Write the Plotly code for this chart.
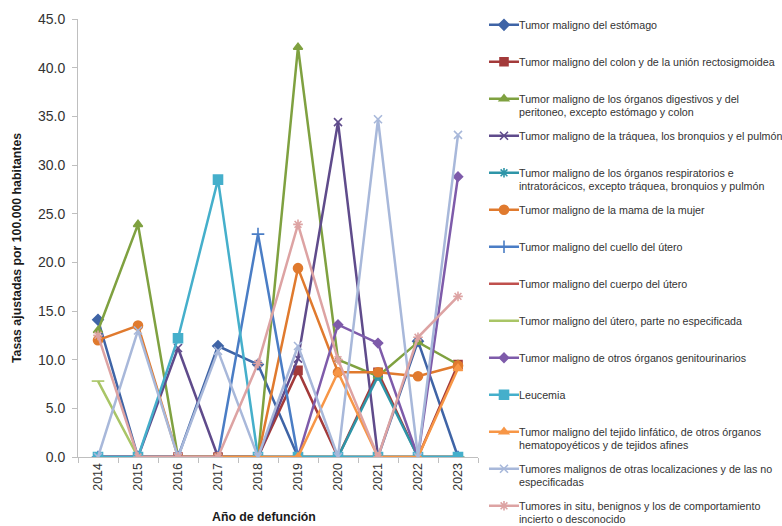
import plotly.graph_objects as go

# Años de defunción (eje X)
years = ["2014", "2015", "2016", "2017", "2018", "2019", "2020", "2021", "2022", "2023"]

# Tasas ajustadas por 100.000 habitantes, una lista por causa
estomago = [14.1, 0, 0, 11.4, 9.5, 0, 0, 0, 11.9, 0]
colon = [0, 0, 0, 0, 0, 8.9, 0, 8.7, 0, 9.5]
digestivos = [13.0, 23.9, 0, 0, 0, 42.1, 10.0, 8.3, 11.8, 9.5]
traquea = [0, 0, 11.2, 0, 0, 10.1, 34.4, 0, 0, 0]
respiratorios = [0, 0, 0, 0, 0, 0, 0, 8.3, 0, 0]
mama = [12.0, 13.5, 0, 0, 0, 19.4, 8.7, 8.7, 8.3, 9.4]
cuello_utero = [0, 0, 0, 0, 22.9, 0, 0, 0, 0, 0]
cuerpo_utero = [0, 0, 0, 0, 0, 0, 0, 0, 0, 0]
utero_ne = [7.8, 0, 0, 0, 0, 0, 0, 0, 0, 0]
genitourinarios = [0, 0, 0, 0, 0, 0, 13.6, 11.7, 0, 28.8]
leucemia = [0, 0, 12.2, 28.5, 0, 0, 0, 0, 0, 0]
linfatico = [None, None, 0, 0, 0, 0, 8.7, 0, 0, 9.1]
otras_localizaciones = [0, 13.0, 0, 10.9, 0, 11.4, 0, 34.7, 0, 33.1]
in_situ = [12.5, 0, 0, 0, 9.6, 23.9, 10.0, 0, 12.3, 16.5]

# Rótulos de la leyenda (primera línea, segunda línea opcional)
labels = [
    ("Tumor maligno del estómago", None),
    ("Tumor maligno del colon y de la unión rectosigmoidea", None),
    ("Tumor maligno de los órganos digestivos y del", "peritoneo, excepto estómago y colon"),
    ("Tumor maligno de la tráquea, los bronquios y el pulmón", None),
    ("Tumor maligno de los órganos respiratorios e", "intratorácicos, excepto tráquea, bronquios y pulmón"),
    ("Tumor maligno de la mama de la mujer", None),
    ("Tumor maligno del cuello del útero", None),
    ("Tumor maligno del cuerpo del útero", None),
    ("Tumor maligno del útero, parte no especificada", None),
    ("Tumor maligno de otros órganos genitourinarios", None),
    ("Leucemia", None),
    ("Tumor maligno del tejido linfático, de otros órganos", "hematopoyéticos y de tejidos afines"),
    ("Tumores malignos de otras localizaciones y de las no", "especificadas"),
    ("Tumores in situ, benignos y los de comportamiento", "incierto o desconocido"),
]

series = [estomago, colon, digestivos, traquea, respiratorios, mama, cuello_utero,
          cuerpo_utero, utero_ne, genitourinarios, leucemia, linfatico,
          otras_localizaciones, in_situ]

colors = ["#3F64A6", "#A33A3A", "#7FA140", "#5F4B8B", "#2E95A8", "#E07A2E", "#4A7DC5",
          "#C0504D", "#A9C566", "#7E5BAA", "#45AFCB", "#F79646", "#A8B8DA", "#DDA3A3"]

symbols = ["diamond", "square", "triangle-up", "x-thin-open", "asterisk-open", "circle",
           "cross-thin-open", "line-ew-open", "line-ew-open", "diamond", "square",
           "triangle-up", "x-thin-open", "asterisk-open"]

sizes = [8, 8, 8, 8, 8, 9, 9, 7, 9, 7, 9, 8, 8, 8]

FONT = "Liberation Sans Narrow, Arial Narrow, Liberation Sans, Arial, sans-serif"
TXT = "#333333"

# Geometría del área de trazado en píxeles
W, H = 782, 526
ML, MR, MT, MB = 78, 304, 19, 69
PW, PH = W - ML - MR, H - MT - MB


def px_x(px):
    return (px - ML) / PW


def px_y(py):
    return 1 - (py - MT) / PH


LEG_STEP = 37.0          # separación vertical entre entradas de la leyenda
FIRST = 25.0             # centro de la primera entrada
HALF = 7                 # entradas por bloque de leyenda

fig = go.Figure()
for i, (vals, (l1, l2)) in enumerate(zip(series, labels)):
    full = l1 + (" " + l2 if l2 else "")
    fig.add_trace(go.Scatter(
        x=years, y=vals, name="", legendgroup=f"g{i}",
        legend="legend" if i < HALF else "legend2",
        mode="lines+markers",
        line=dict(color=colors[i], width=2.5),
        marker=dict(symbol=symbols[i], size=sizes[i], color=colors[i],
                    line=dict(color=colors[i], width=1.6)),
        hovertemplate=full + "<br>%{x}: %{y:.1f}<extra></extra>",
    ))

# Texto de la leyenda
annotations = []
for i, (l1, l2) in enumerate(labels):
    yc = FIRST + i * LEG_STEP
    for k, line in enumerate([l1, l2]):
        if line is None:
            continue
        annotations.append(dict(
            x=px_x(517), y=px_y(yc + k * 13), xref="paper", yref="paper",
            text=line, showarrow=False, xanchor="left", yanchor="middle",
            font=dict(family=FONT, size=10.7, color=TXT),
        ))

annotations.append(dict(
    x=px_x(17), y=px_y(248), xref="paper", yref="paper",
    text="<b>Tasas ajustadas por 100.000 habitantes</b>", textangle=-90,
    showarrow=False, xanchor="center", yanchor="middle",
    font=dict(family=FONT, size=12.3, color="#1a1a1a"),
))
annotations.append(dict(
    x=px_x(264), y=px_y(517), xref="paper", yref="paper",
    text="<b>Año de defunción</b>", showarrow=False,
    xanchor="center", yanchor="middle",
    font=dict(family=FONT, size=12.3, color="#1a1a1a"),
))

# Bloques de leyenda referidos al contenedor, para no alterar los márgenes
legend_common = dict(
    xref="container", yref="container",
    xanchor="left", yanchor="top", x=484 / W,
    font=dict(family=FONT, size=12, color=TXT),
    tracegroupgap=LEG_STEP - 19, valign="top",
    bgcolor="rgba(0,0,0,0)", borderwidth=0,
)

fig.update_layout(
    width=W, height=H,
    margin=dict(l=ML, r=MR, t=MT, b=MB, pad=0, autoexpand=False),
    paper_bgcolor="white", plot_bgcolor="white",
    showlegend=True,
    legend=dict(y=1 - (FIRST - 14.5) / H, **legend_common),
    legend2=dict(y=1 - (FIRST + HALF * LEG_STEP - 14.5) / H, **legend_common),
    annotations=annotations,
    xaxis=dict(
        type="category", range=[-0.5, 9.5],
        showline=True, linecolor="#BFBFBF", linewidth=1,
        ticks="outside", tickson="boundaries", ticklen=5, tickcolor="#BFBFBF",
        tickangle=-90, showgrid=False, zeroline=False,
        tickfont=dict(family=FONT, size=12.5, color=TXT),
    ),
    yaxis=dict(
        range=[0, 45], tickvals=[0, 5, 10, 15, 20, 25, 30, 35, 40, 45],
        tickformat=".1f", showline=True, linecolor="#BFBFBF", linewidth=1,
        ticks="outside", ticklen=5, tickcolor="#BFBFBF", ticklabelstandoff=4,
        showgrid=False, zeroline=False,
        tickfont=dict(family=FONT, size=14, color=TXT),
    ),
)

fig.write_html("out.html")
